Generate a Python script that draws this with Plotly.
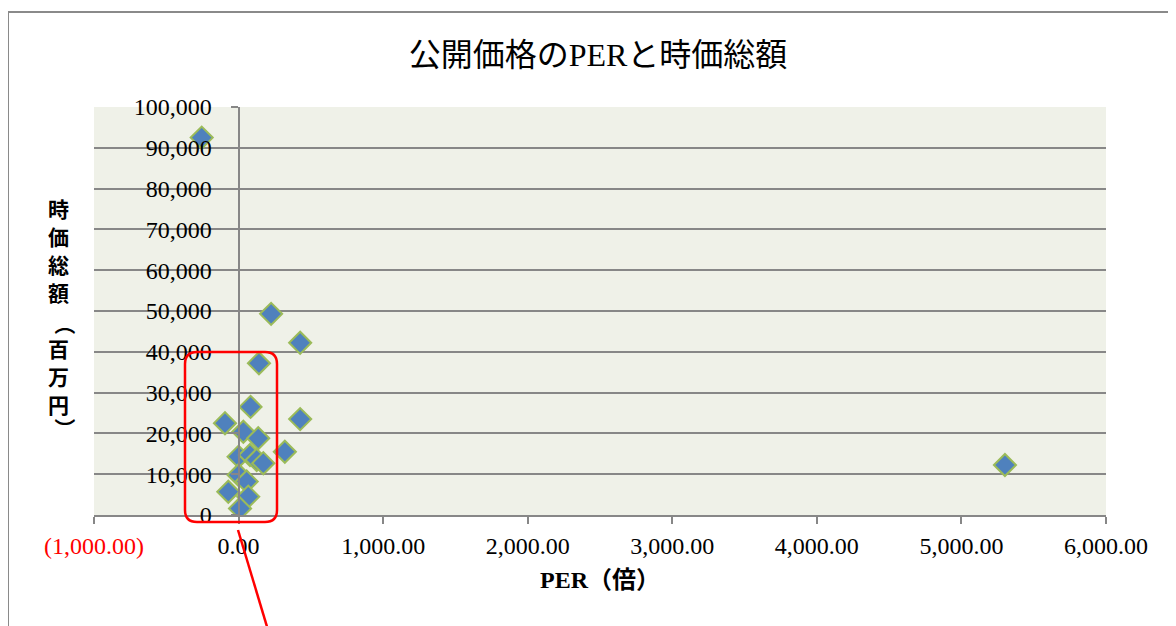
import plotly.graph_objects as go

# PER (倍) and market cap (百万円)
per = [-255, 225, 426, 141, 83, 426, -94, 33, 136, 320, 5301,
       0, 79, 125, 171, 0, 56, -71, 67, 10]
cap = [92500, 49300, 42200, 37200, 26500, 23500, 22500, 20400, 18800, 15500, 12250,
       14300, 14700, 13500, 12700, 9800, 8200, 5700, 4500, 1600]

x_ticks = [-1000, 0, 1000, 2000, 3000, 4000, 5000, 6000]
x_ticktext = ['<span style="fill:#FF0000">(1,000.00)</span>', "0.00", "1,000.00", "2,000.00",
              "3,000.00", "4,000.00", "5,000.00", "6,000.00"]
y_ticks = [0, 10000, 20000, 30000, 40000, 50000, 60000, 70000, 80000, 90000, 100000]
y_ticktext = ["0", "10,000", "20,000", "30,000", "40,000", "50,000", "60,000",
              "70,000", "80,000", "90,000", "100,000"]

title_text = "公開価格のPERと時価総額"
x_title = "<b>PER（倍）</b>"
y_title_chars = ["時", "価", "総", "額", "（", "百", "万", "円", "）"]
y_title_angles = [0, 0, 0, 0, 90, 0, 0, 0, 90]

OFF = 8  # page body margin
W, H = 1168, 618
L, R, T, B = 86, 70, 99, 111
pw, ph = W - L - R, H - T - B
xmin, xmax = -1000, 6000
yaxis_pos = (0 - xmin) / (xmax - xmin)

def px(x):
    return (x - OFF - L) / pw

def py(y):
    return (H - B - (y - OFF)) / ph

serif = "Liberation Serif, Noto Sans CJK JP, serif"
grid = "#878787"

fig = go.Figure(go.Scatter(
    x=per, y=cap, mode="markers",
    marker=dict(symbol="diamond", size=17, color="#4F81BD",
                line=dict(color="#9BBB59", width=2)),
    hoverinfo="x+y",
))

fig.update_layout(
    width=W, height=H,
    margin=dict(l=L, r=R, t=T, b=B),
    paper_bgcolor="white",
    plot_bgcolor="#EFF1E8",
    showlegend=False,
    title=dict(text=title_text, x=(598 - OFF) / W, xanchor="center",
               y=1 - (55 - OFF) / H, yanchor="middle",
               font=dict(family=serif, size=32, color="black")),
    xaxis=dict(range=[xmin, xmax], tickvals=x_ticks, ticktext=x_ticktext,
               showgrid=False, zeroline=False, showline=True, linecolor=grid, linewidth=2,
               ticks="outside", ticklen=7, tickcolor=grid, tickwidth=1.5,
               tickfont=dict(family=serif, size=24, color="black"),
               ticklabelstandoff=1,
               title=dict(text=x_title, standoff=13,
                          font=dict(family=serif, size=24, color="black"))),
    yaxis=dict(range=[0, 100000], tickvals=y_ticks, ticktext=y_ticktext,
               anchor="free", position=yaxis_pos,
               showgrid=True, gridcolor=grid, gridwidth=2, zeroline=False,
               showline=True, linecolor=grid, linewidth=2,
               ticks="outside", ticklen=7, tickcolor=grid, tickwidth=1.5,
               tickfont=dict(family=serif, size=24, color="black"),
               ticklabelstandoff=14),
)

# vertical y-axis title (stacked characters)
for i, (ch, ang) in enumerate(zip(y_title_chars, y_title_angles)):
    fig.add_annotation(
        text=ch, xref="paper", yref="paper", textangle=ang,
        x=px(58), y=py(208 + 28 * i), xanchor="center", yanchor="middle", showarrow=False,
        xshift=8 if ang else 0, yshift=(-4 if i == 4 else 4) if ang else 0,
        font=dict(family="Noto Sans CJK JP", size=21, color="black", weight="bold"),
    )

# outer chart frame
fig.add_shape(type="rect", xref="paper", yref="paper",
              x0=px(8), x1=px(1190), y0=py(650), y1=py(12),
              line=dict(color="#8A8A8A", width=2), layer="below")

# red rounded highlight box and pointer line
x0, x1, y0, y1 = px(185), px(277), py(522), py(352)
rx, ry = 12 / pw, 12 / ph
path = (f"M {x0+rx},{y1} L {x1-rx},{y1} Q {x1},{y1} {x1},{y1-ry} "
        f"L {x1},{y0+ry} Q {x1},{y0} {x1-rx},{y0} L {x0+rx},{y0} "
        f"Q {x0},{y0} {x0},{y0+ry} L {x0},{y1-ry} Q {x0},{y1} {x0+rx},{y1} Z")
fig.add_shape(type="path", xref="paper", yref="paper", path=path,
              line=dict(color="#FF0000", width=2.5))
fig.add_shape(type="line", xref="paper", yref="paper",
              x0=px(238), y0=py(530), x1=px(271), y1=py(640),
              line=dict(color="#FF0000", width=2.5))

fig.write_html("out.html")
